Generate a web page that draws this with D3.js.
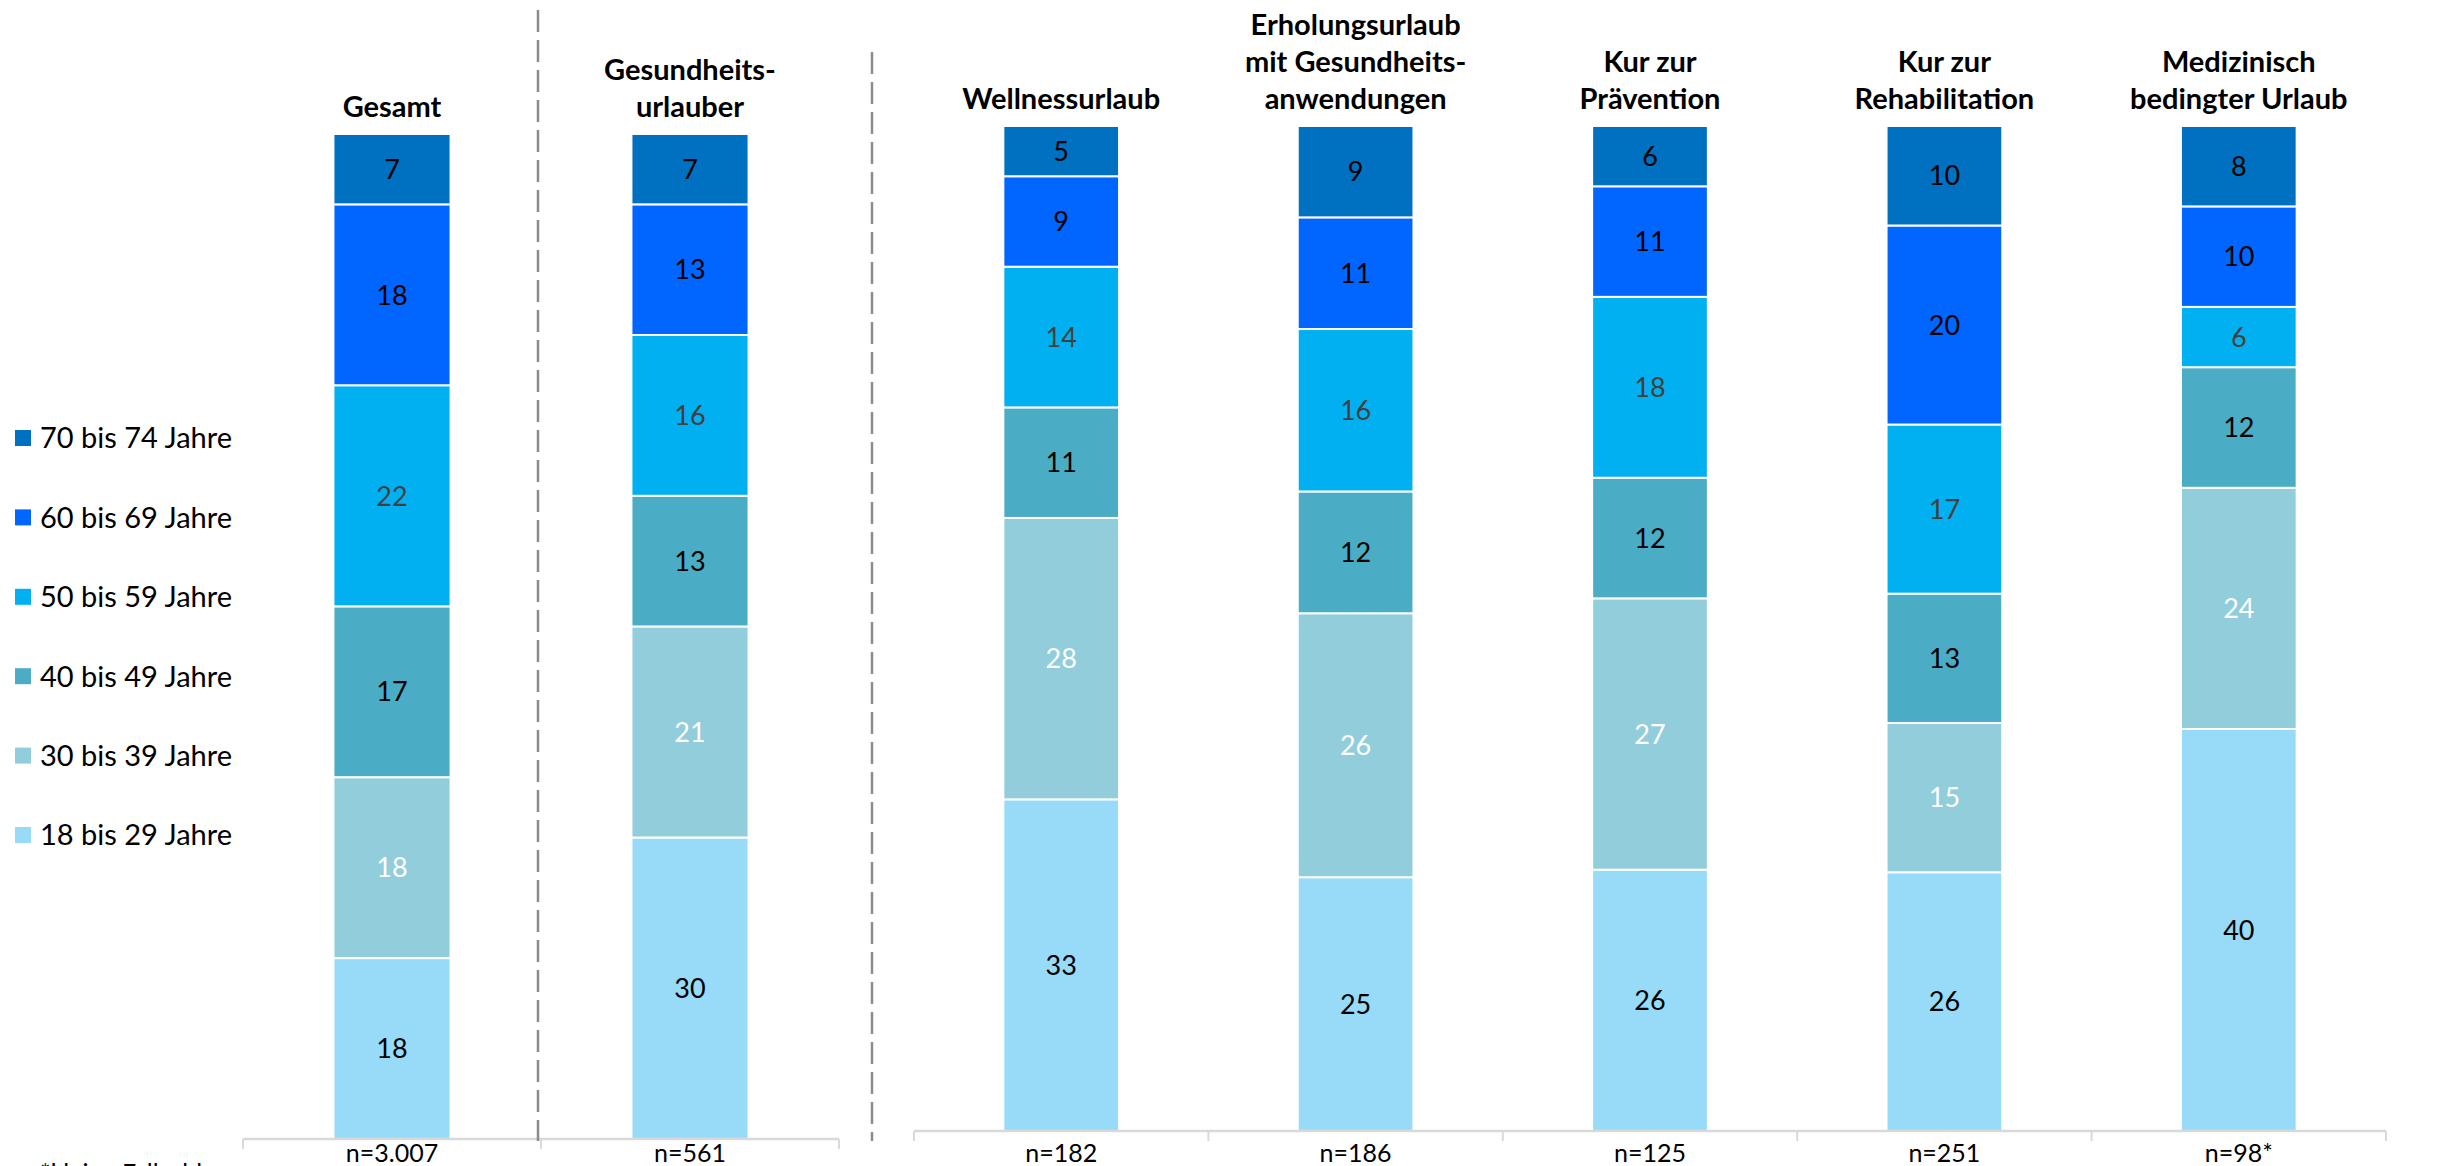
<!DOCTYPE html>
<html>
<head>
<meta charset="utf-8">
<script src="https://cdn.jsdelivr.net/npm/d3@7"></script>
<style>
  body { margin: 0; background: #fff; }
  svg text { font-family: Lato, "Open Sans", sans-serif; }
</style>
</head>
<body>
<div id="chart"></div>
<script>
// age groups, bottom to top
var ageGroups = ["18 bis 29 Jahre", "30 bis 39 Jahre", "40 bis 49 Jahre", "50 bis 59 Jahre", "60 bis 69 Jahre", "70 bis 74 Jahre"];
var colors = ["#97dbf9", "#92cddc", "#4bacc6", "#00b0f0", "#0066ff", "#0070c0"];
var labelColors = ["#000000", "#ffffff", "#000000", "#404040", "#000000", "#000000"];

var leftCats = ["Gesamt", "Gesundheitsurlauber"];
var leftTitles = [["Gesamt"], ["Gesundheits-", "urlauber"]];
var leftN = ["n=3.007", "n=561"];
var leftValues = [
  [18, 18, 17, 22, 18, 7],
  [30, 21, 13, 16, 13, 7]
];

var rightCats = ["Wellnessurlaub", "Erholungsurlaub", "Praevention", "Rehabilitation", "Medizinisch"];
var rightTitles = [
  ["Wellnessurlaub"],
  ["Erholungsurlaub", "mit Gesundheits-", "anwendungen"],
  ["Kur zur", "Prävention"],
  ["Kur zur", "Rehabilitation"],
  ["Medizinisch", "bedingter Urlaub"]
];
var rightN = ["n=182", "n=186", "n=125", "n=251", "n=98*"];
var rightValues = [
  [33, 28, 11, 14, 9, 5],
  [25, 26, 12, 16, 11, 9],
  [26, 27, 12, 18, 11, 6],
  [26, 15, 13, 17, 20, 10],
  [40, 24, 12, 6, 10, 8]
];

var width = 2442, height = 1166;

var svg = d3.select("#chart").append("svg")
    .attr("width", width)
    .attr("height", height);

// draws one panel of 100% stacked bars
function drawPanel(cats, titles, nLabels, values, x0, x1, yBottom, yTop) {
  var x = d3.scaleBand().domain(cats).range([x0, x1]).padding(0);
  var y = d3.scaleLinear().domain([0, 1]).range([yBottom, yTop]);
  var barW = x.bandwidth() * 0.393;

  var rows = cats.map(function(c, i) {
    var r = { cat: c };
    ageGroups.forEach(function(a, j) { r[a] = values[i][j]; });
    return r;
  });
  var series = d3.stack().keys(ageGroups).offset(d3.stackOffsetExpand)(rows);

  var g = svg.append("g");

  var layer = g.selectAll(".layer")
    .data(series)
    .enter().append("g")
      .attr("class", "layer")
      .attr("fill", function(d, i) { return colors[i]; });

  layer.selectAll("rect")
    .data(function(d) { return d; })
    .enter().append("rect")
      .attr("x", function(d) { return x(d.data.cat) + (x.bandwidth() - barW) / 2; })
      .attr("width", barW)
      .attr("y", function(d) { return y(d[1]); })
      .attr("height", function(d) { return y(d[0]) - y(d[1]); })
      .attr("stroke", "#fff")
      .attr("stroke-width", 2);

  layer.selectAll("text")
    .data(function(d, i) { return d.map(function(p) { return { p: p, i: i }; }); })
    .enter().append("text")
      .attr("x", function(d) { return x(d.p.data.cat) + x.bandwidth() / 2; })
      .attr("y", function(d) { return (y(d.p[0]) + y(d.p[1])) / 2; })
      .attr("dy", "0.36em")
      .attr("text-anchor", "middle")
      .style("font-size", "27px")
      .attr("fill", function(d) { return labelColors[d.i]; })
      .text(function(d) { return d.p.data[ageGroups[d.i]]; });

  // category axis (bottom) with tick marks between categories
  var axisY = yBottom;
  g.append("line")
    .attr("x1", x0).attr("x2", x1)
    .attr("y1", axisY).attr("y2", axisY)
    .attr("stroke", "#d9d9d9").attr("stroke-width", 2.5);
  var edges = cats.map(function(c) { return x(c); }).concat([x1]);
  g.selectAll(".tick")
    .data(edges)
    .enter().append("line")
      .attr("x1", function(d) { return d; }).attr("x2", function(d) { return d; })
      .attr("y1", axisY).attr("y2", axisY + 10)
      .attr("stroke", "#d9d9d9").attr("stroke-width", 2);

  g.selectAll(".nlab")
    .data(cats)
    .enter().append("text")
      .attr("x", function(d) { return x(d) + x.bandwidth() / 2; })
      .attr("y", 1162)
      .attr("text-anchor", "middle")
      .style("font-size", "25px")
      .attr("fill", "#000")
      .text(function(d, i) { return nLabels[i]; });

  // titles above the bars, last line sits right above the bar
  cats.forEach(function(c, i) {
    var lines = titles[i];
    var t = g.append("text")
      .attr("text-anchor", "middle")
      .style("font-size", "29px")
      .style("font-weight", "bold")
      .attr("fill", "#000");
    lines.forEach(function(l, k) {
      t.append("tspan")
        .attr("x", x(c) + x.bandwidth() / 2)
        .attr("y", yTop - 17 - (lines.length - 1 - k) * 37)
        .text(l);
    });
  });
}

drawPanel(leftCats, leftTitles, leftN, leftValues, 243, 839, 1139, 134);
drawPanel(rightCats, rightTitles, rightN, rightValues, 914, 2386, 1131, 126);

// dashed separators
svg.append("line")
  .attr("x1", 538).attr("x2", 538).attr("y1", 10).attr("y2", 1141)
  .attr("stroke", "#8c8c8c").attr("stroke-width", 2.5)
  .attr("stroke-dasharray", "22,8");
svg.append("line")
  .attr("x1", 872).attr("x2", 872).attr("y1", 52).attr("y2", 1141)
  .attr("stroke", "#8c8c8c").attr("stroke-width", 2.5)
  .attr("stroke-dasharray", "22,8");

// legend, top item is the oldest group
var legendOrder = ageGroups.map(function(a, i) { return i; }).reverse();
var legend = svg.selectAll(".legend")
  .data(legendOrder)
  .enter().append("g")
    .attr("class", "legend")
    .attr("transform", function(d, k) { return "translate(15," + (438 + k * 79.4) + ")"; });
legend.append("rect")
  .attr("x", 0).attr("y", -8)
  .attr("width", 16).attr("height", 16)
  .attr("fill", function(d) { return colors[d]; });
legend.append("text")
  .attr("x", 25).attr("y", 0)
  .attr("dy", "0.36em")
  .style("font-size", "29px")
  .attr("fill", "#000")
  .text(function(d) { return ageGroups[d]; });

// footnote, mostly cut off at the bottom edge
svg.append("text")
  .attr("x", 40).attr("y", 1182)
  .style("font-size", "25px")
  .attr("fill", "#000")
  .text("*kleine Fallzahl");
</script>
</body>
</html>
